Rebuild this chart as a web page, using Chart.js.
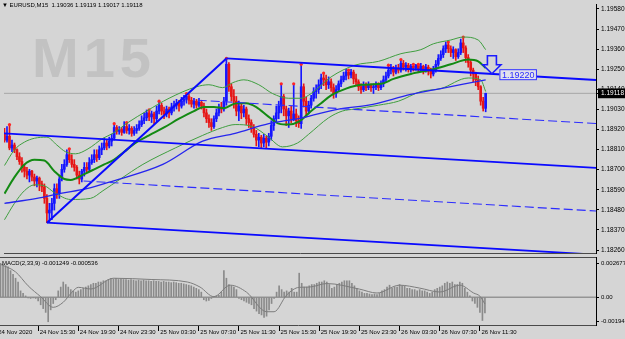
<!DOCTYPE html>
<html>
<head>
<meta charset="utf-8">
<script src="https://cdn.jsdelivr.net/npm/chart.js@4.4.1/dist/chart.umd.min.js"></script>
<style>
  html, body { margin: 0; padding: 0; background: #d5d5d5; }
  #wrap { position: relative; width: 625px; height: 339px; overflow: hidden; }
  #main { position: absolute; left: 0; top: 0; }
  #macd { position: absolute; left: 0; top: 257px; }
</style>
</head>
<body>
<div id="wrap">
  <canvas id="main" width="625" height="257"></canvas>
  <canvas id="macd" width="625" height="82"></canvas>
</div>
<script>
// EURUSD M15 candles, bar 0 = 24 Nov 11:45 ... bar 193 = 26 Nov 12:00
const firstOpen = 1.18899;
const closes = [
  1.18862, 1.18883, 1.18819, 1.18835, 1.18809, 1.18771, 1.18745, 1.18713, 1.18692, 1.18670,
  1.18692, 1.18660, 1.18638, 1.18654, 1.18622, 1.18606, 1.18543, 1.18463, 1.18479, 1.18516,
  1.18596, 1.18570, 1.18649, 1.18702, 1.18729, 1.18782, 1.18755, 1.18729, 1.18713, 1.18670,
  1.18649, 1.18692, 1.18713, 1.18702, 1.18739, 1.18755, 1.18782, 1.18766, 1.18809, 1.18819,
  1.18846, 1.18830, 1.18856, 1.18872, 1.18931, 1.18910, 1.18920, 1.18904, 1.18936, 1.18915,
  1.18926, 1.18899, 1.18915, 1.18926, 1.18947, 1.18968, 1.18984, 1.19011, 1.18989, 1.19005,
  1.18979, 1.19021, 1.19053, 1.19021, 1.19005, 1.19032, 1.19011, 1.19043, 1.19053, 1.19064,
  1.19048, 1.19075, 1.19085, 1.19101, 1.19080, 1.19059, 1.19075, 1.19053, 1.19069, 1.19048,
  1.19011, 1.18979, 1.18958, 1.18936, 1.18979, 1.19011, 1.19043, 1.19032, 1.19075, 1.19277,
  1.19154, 1.19101, 1.19075, 1.19021, 1.19048, 1.19011, 1.19032, 1.18979, 1.18958, 1.18926,
  1.18894, 1.18862, 1.18878, 1.18846, 1.18872, 1.18851, 1.18883, 1.18942, 1.18979, 1.19011,
  1.19048, 1.19101, 1.19032, 1.18995, 1.19021, 1.18979, 1.19005, 1.18968, 1.18952, 1.19154,
  1.19075, 1.19021, 1.19053, 1.19091, 1.19128, 1.19138, 1.19165, 1.19202, 1.19192, 1.19165,
  1.19181, 1.19149, 1.19117, 1.19138, 1.19170, 1.19192, 1.19213, 1.19234, 1.19218, 1.19234,
  1.19197, 1.19181, 1.19154, 1.19138, 1.19160, 1.19149, 1.19165, 1.19149, 1.19154, 1.19165,
  1.19149, 1.19170, 1.19192, 1.19213, 1.19245, 1.19256, 1.19234, 1.19256, 1.19245, 1.19282,
  1.19261, 1.19272, 1.19250, 1.19266, 1.19256, 1.19272, 1.19250, 1.19266, 1.19245, 1.19261,
  1.19240, 1.19224, 1.19245, 1.19277, 1.19309, 1.19330, 1.19362, 1.19383, 1.19362, 1.19341,
  1.19357, 1.19319, 1.19341, 1.19394, 1.19367, 1.19314, 1.19287, 1.19245, 1.19224, 1.19192,
  1.19154, 1.19075, 1.19036, 1.19118
];
const highs = [
  1.18926, 1.18936, 1.18947, 1.18862, 1.18846, 1.18814, 1.18793, 1.18766, 1.18729, 1.18713,
  1.18702, 1.18697, 1.18676, 1.18665, 1.18660, 1.18638, 1.18622, 1.18564, 1.18516, 1.18543,
  1.18622, 1.18622, 1.18670, 1.18729, 1.18755, 1.18809, 1.18814, 1.18782, 1.18755, 1.18723,
  1.18692, 1.18702, 1.18739, 1.18739, 1.18766, 1.18782, 1.18809, 1.18809, 1.18830, 1.18846,
  1.18872, 1.18862, 1.18878, 1.18894, 1.18952, 1.18942, 1.18936, 1.18931, 1.18963, 1.18958,
  1.18947, 1.18936, 1.18936, 1.18947, 1.18968, 1.18995, 1.19011, 1.19027, 1.19027, 1.19021,
  1.19016, 1.19048, 1.19075, 1.19064, 1.19043, 1.19048, 1.19043, 1.19064, 1.19075, 1.19085,
  1.19080, 1.19096, 1.19107, 1.19117, 1.19112, 1.19096, 1.19091, 1.19085, 1.19091, 1.19080,
  1.19064, 1.19032, 1.19000, 1.18979, 1.18995, 1.19032, 1.19059, 1.19069, 1.19096, 1.19309,
  1.19287, 1.19170, 1.19138, 1.19101, 1.19075, 1.19059, 1.19053, 1.19043, 1.19000, 1.18973,
  1.18947, 1.18915, 1.18899, 1.18888, 1.18894, 1.18883, 1.18899, 1.18968, 1.18995, 1.19048,
  1.19075, 1.19170, 1.19112, 1.19048, 1.19037, 1.19048, 1.19170, 1.19032, 1.18995, 1.19277,
  1.19170, 1.19096, 1.19075, 1.19107, 1.19149, 1.19165, 1.19192, 1.19224, 1.19229, 1.19218,
  1.19208, 1.19197, 1.19170, 1.19160, 1.19186, 1.19213, 1.19234, 1.19250, 1.19245, 1.19250,
  1.19245, 1.19224, 1.19192, 1.19170, 1.19181, 1.19176, 1.19181, 1.19170, 1.19170, 1.19181,
  1.19176, 1.19186, 1.19213, 1.19234, 1.19272, 1.19277, 1.19266, 1.19272, 1.19277, 1.19303,
  1.19298, 1.19287, 1.19282, 1.19277, 1.19277, 1.19277, 1.19277, 1.19282, 1.19272, 1.19277,
  1.19272, 1.19256, 1.19266, 1.19298, 1.19330, 1.19351, 1.19378, 1.19399, 1.19399, 1.19378,
  1.19373, 1.19362, 1.19362, 1.19415, 1.19426, 1.19378, 1.19330, 1.19298, 1.19256, 1.19234,
  1.19213, 1.19160, 1.19096, 1.19119
];
const lows = [
  1.18851, 1.18851, 1.18809, 1.18798, 1.18793, 1.18755, 1.18729, 1.18686, 1.18660, 1.18649,
  1.18633, 1.18638, 1.18612, 1.18606, 1.18585, 1.18580, 1.18516, 1.18410, 1.18415, 1.18426,
  1.18479, 1.18543, 1.18543, 1.18638, 1.18686, 1.18718, 1.18739, 1.18713, 1.18692, 1.18649,
  1.18622, 1.18633, 1.18665, 1.18686, 1.18692, 1.18729, 1.18739, 1.18745, 1.18755, 1.18782,
  1.18809, 1.18809, 1.18819, 1.18830, 1.18862, 1.18894, 1.18894, 1.18888, 1.18899, 1.18899,
  1.18894, 1.18883, 1.18888, 1.18899, 1.18915, 1.18936, 1.18952, 1.18968, 1.18968, 1.18958,
  1.18952, 1.18963, 1.19005, 1.19000, 1.18979, 1.18989, 1.18984, 1.19000, 1.19021, 1.19032,
  1.19021, 1.19037, 1.19053, 1.19064, 1.19059, 1.19043, 1.19037, 1.19037, 1.19043, 1.19032,
  1.18989, 1.18958, 1.18931, 1.18915, 1.18926, 1.18963, 1.18995, 1.19011, 1.19021, 1.19053,
  1.19128, 1.19075, 1.19037, 1.18995, 1.18968, 1.18979, 1.18989, 1.18947, 1.18931, 1.18904,
  1.18878, 1.18830, 1.18825, 1.18819, 1.18825, 1.18819, 1.18830, 1.18862, 1.18915, 1.18963,
  1.18979, 1.19011, 1.18995, 1.18942, 1.18931, 1.18958, 1.18968, 1.18936, 1.18931, 1.18926,
  1.19043, 1.18989, 1.19005, 1.19037, 1.19075, 1.19091, 1.19117, 1.19144, 1.19160, 1.19138,
  1.19144, 1.19128, 1.19091, 1.19096, 1.19128, 1.19154, 1.19181, 1.19192, 1.19197, 1.19202,
  1.19170, 1.19160, 1.19133, 1.19117, 1.19128, 1.19133, 1.19138, 1.19128, 1.19117, 1.19138,
  1.19133, 1.19138, 1.19154, 1.19181, 1.19202, 1.19224, 1.19213, 1.19224, 1.19229, 1.19234,
  1.19245, 1.19240, 1.19234, 1.19234, 1.19240, 1.19245, 1.19234, 1.19240, 1.19224, 1.19234,
  1.19218, 1.19202, 1.19213, 1.19234, 1.19266, 1.19298, 1.19314, 1.19341, 1.19341, 1.19319,
  1.19309, 1.19298, 1.19309, 1.19330, 1.19341, 1.19287, 1.19261, 1.19213, 1.19181, 1.19160,
  1.19138, 1.19053, 1.19021, 1.19017
];
// forex bars open at the previous close
const opens = closes.map((c, i) => i === 0 ? firstOpen : closes[i - 1]);

// red markers sit on these bars' highs
const dotBars = [2, 26, 44, 49, 58, 62, 73, 89, 111, 116, 119, 128, 138, 154, 159, 164, 166, 178, 184];

// Bollinger bands (sampled at bar positions)
const bbMidAt = [0, 4, 8, 12, 16, 20, 24, 26.5, 32, 36, 40, 44, 48, 53, 58, 64, 70, 76, 80, 84,
  88, 93, 97, 101, 106, 110, 114, 118, 123, 127, 131, 137, 143, 151, 156, 163, 172, 179, 186, 190, 193];
const bbMid = [1.18569, 1.18659, 1.18729, 1.18755, 1.18750, 1.18692, 1.18649, 1.18644, 1.18676, 1.18702,
  1.18729, 1.18755, 1.18798, 1.18851, 1.18888, 1.18931, 1.18979, 1.19021, 1.19043, 1.19043,
  1.19037, 1.19064, 1.19064, 1.19043, 1.18989, 1.18952, 1.18947, 1.18963, 1.19021, 1.19064,
  1.19107, 1.19144, 1.19165, 1.19170, 1.19197, 1.19224, 1.19250, 1.19277, 1.19303, 1.19293, 1.19256];
const bbUpAt = [0, 4, 8, 12, 17, 21, 24.5, 28.5, 33.5, 39.5, 43.5, 49.5, 57, 66, 77, 82, 87.5, 91.5, 96, 102,
  107.5, 114, 119, 123, 131, 140.5, 150, 159, 167, 172, 179, 184, 190, 193];
const bbUp = [1.18723, 1.18809, 1.18851, 1.18872, 1.18878, 1.18835, 1.18798, 1.18787, 1.18814, 1.18872,
  1.18899, 1.18958, 1.19021, 1.19091, 1.19154, 1.19165, 1.19149, 1.19176, 1.19192, 1.19165,
  1.19117, 1.19091, 1.19091, 1.19117, 1.19208, 1.19272, 1.19293, 1.19335, 1.19357, 1.19389,
  1.19410, 1.19426, 1.19410, 1.19357];
const bbLowAt = [0, 4, 8, 12, 16, 20, 26.5, 34.5, 39.5, 46.5, 55.5, 68.5, 79.5, 87.5, 92.5, 99.5, 105.5, 111.5, 117.5, 122,
  130, 135.5, 140.5, 150, 158, 167, 175, 186, 191, 193];
const bbLow = [1.18426, 1.18516, 1.18585, 1.18617, 1.18612, 1.18575, 1.18537, 1.18543, 1.18585, 1.18649,
  1.18729, 1.18819, 1.18888, 1.18931, 1.18947, 1.18936, 1.18883, 1.18825, 1.18846, 1.18894,
  1.18984, 1.19021, 1.19032, 1.19053, 1.19075, 1.19128, 1.19144, 1.19202, 1.19192, 1.19128];

// slow moving average (blue)
const maAt = [0, 13, 22.5, 33, 43.5, 63.5, 79.5, 92.5, 106, 119.5, 134, 146, 163, 175, 193];
const maVal = [1.18516, 1.18543, 1.18570, 1.18596, 1.18638, 1.18729, 1.18856, 1.18899, 1.18952, 1.18984,
  1.19032, 1.19053, 1.19112, 1.19144, 1.19192];

// drawn objects: [startBar, startPrice, endBar, endPrice]
const trendLine = [17, 1.18410, 89, 1.19309];
const channelSolid = [
  [89, 1.19309, 237.25, 1.19191],
  [-0.2, 1.18899, 237.25, 1.18710],
  [17, 1.18410, 237.25, 1.18235]
];
const channelDashed = [
  [77.5, 1.19080, 237.25, 1.18953],
  [31.7, 1.18638, 237.25, 1.18474]
];
const arrowBar = 195.5, arrowPrice = 1.19220, arrowLabelBar = 198.5;

const priceTicks = [1.18260, 1.18370, 1.18480, 1.18590, 1.18700, 1.18810, 1.18920,
  1.19030, 1.19140, 1.19250, 1.19360, 1.19470, 1.19580];
const bidPrice = 1.19118;

const timeTickBars = [-1.5, 15, 31, 47, 63, 79, 95, 111, 127, 143, 159, 175, 191];
const timeLabels = ['24 Nov 2020', '24 Nov 15:30', '24 Nov 19:30', '24 Nov 23:30', '25 Nov 03:30',
  '25 Nov 07:30', '25 Nov 11:30', '25 Nov 15:30', '25 Nov 19:30', '25 Nov 23:30',
  '26 Nov 03:30', '26 Nov 07:30', '26 Nov 11:30'];

// MACD(2,33,9): main values per bar, signal sampled
const macdMain = [
  0.00268, 0.00260, 0.00250, 0.00240, 0.00210, 0.00180, 0.00150, 0.00120, 0.00050, 0.00030,
  0.00010, -0.00005, -0.00010, -0.00005, -0.00010, -0.00030, -0.00060, -0.00090, -0.00120, -0.00194,
  -0.00100, -0.00050, -0.00020, 0.00050, 0.00080, 0.00120, 0.00100, 0.00080, 0.00060, 0.00050,
  0.00040, 0.00050, 0.00060, 0.00070, 0.00080, 0.00090, 0.00100, 0.00110, 0.00110, 0.00120,
  0.00120, 0.00130, 0.00130, 0.00140, 0.00150, 0.00145, 0.00150, 0.00140, 0.00145, 0.00140,
  0.00140, 0.00135, 0.00140, 0.00135, 0.00130, 0.00135, 0.00130, 0.00135, 0.00130, 0.00130,
  0.00125, 0.00130, 0.00125, 0.00125, 0.00120, 0.00125, 0.00120, 0.00120, 0.00115, 0.00120,
  0.00115, 0.00110, 0.00110, 0.00105, 0.00100, 0.00095, 0.00090, 0.00080, 0.00070, 0.00060,
  0.00040, -0.00020, -0.00030, -0.00025, -0.00010, 0.00005, 0.00010, 0.00015, 0.00040, 0.00210,
  0.00150, 0.00100, 0.00090, 0.00080, 0.00060, -0.00010, -0.00020, -0.00030, -0.00040, -0.00050,
  -0.00060, -0.00090, -0.00110, -0.00130, -0.00140, -0.00160, -0.00150, -0.00100, -0.00050, -0.00010,
  0.00040, 0.00090, 0.00060, 0.00040, 0.00050, 0.00040, 0.00070, 0.00040, 0.00040, 0.00190,
  0.00110, 0.00080, 0.00080, 0.00090, 0.00100, 0.00100, 0.00110, 0.00120, 0.00120, 0.00130,
  0.00120, 0.00100, 0.00070, 0.00080, 0.00100, 0.00110, 0.00120, 0.00130, 0.00130, 0.00130,
  0.00110, 0.00090, 0.00070, 0.00050, 0.00040, 0.00030, 0.00030, 0.00025, 0.00020, 0.00025,
  0.00020, 0.00030, 0.00050, 0.00060, 0.00080, 0.00095, 0.00070, 0.00080, 0.00080, 0.00100,
  0.00090, 0.00090, 0.00070, 0.00070, 0.00060, 0.00060, 0.00050, 0.00060, 0.00050, 0.00050,
  0.00040, 0.00030, 0.00040, 0.00060, 0.00070, 0.00080, 0.00090, 0.00110, 0.00120, 0.00110,
  0.00120, 0.00100, 0.00100, 0.00120, 0.00110, 0.00070, 0.00040, 0.00010, -0.00030, -0.00050,
  -0.00080, -0.00120, -0.00184, -0.001249
];
const signalAt = [0, 6, 11, 16, 21, 25, 28.5, 31, 36, 45, 60, 74.5, 79.5, 85, 91.5, 98, 106, 109, 114, 119,
  123, 130, 143, 150, 159, 167, 175, 183, 188.5, 191, 193];
const signalVal = [0.00260, 0.00200, 0.00090, 0.00004, -0.00080, -0.00040, 0.00040, 0.00078, 0.00065, 0.00150,
  0.00140, 0.00120, 0.00080, 0.00004, 0.00095, 0.00040, -0.00115, -0.00115, 0.00017, 0.00078,
  0.00080, 0.00108, 0.00064, 0.00033, 0.00095, 0.00072, 0.00041, 0.00095, 0.00033, 0.00008, -0.000536];
const macdTicks = [-0.00194, 0, 0.002677];
const macdTickLabels = ['-0.00194', '0.00', '0.002677'];

const X_MIN = -0.2, X_MAX = 237.25;
const FONT = '"Liberation Sans", Arial, sans-serif';
const BULL = '#1616ff', BEAR = '#e61616';

const last = closes.length - 1;
const bars = closes.map((c, i) => i);
const candleColors = bars.map(i => closes[i] >= opens[i] ? BULL : BEAR);
const pts = (xs, ys) => xs.map((x, i) => ({ x: x, y: ys[i] }));
const seg = s => [{ x: s[0], y: s[1] }, { x: s[2], y: s[3] }];

function lineSet(data, color, width, order, dash) {
  return {
    type: 'line', data: data, borderColor: color, borderWidth: width,
    pointRadius: 0, fill: false, cubicInterpolationMode: 'monotone',
    borderDash: dash || [], order: order
  };
}

// pin axis boxes so the plot area matches the terminal window
function fitY(s) { s.width = 29; s.paddingTop = 0; s.paddingBottom = 0; }

const mainOverlay = {
  id: 'mainOverlay',
  beforeDatasetsDraw(chart) {
    const c = chart.ctx;
    c.save();
    c.font = 'bold 56px ' + FONT;
    c.letterSpacing = '5px';
    c.fillStyle = '#c2c2c2';
    c.textBaseline = 'alphabetic';
    c.fillText('M15', 32, 77);
    c.restore();
  },
  afterDatasetsDraw(chart) {
    const c = chart.ctx, x = chart.scales.x, y = chart.scales.y;
    const tx = x.getPixelForValue(arrowBar), ty = y.getPixelForValue(arrowPrice);
    c.save();
    // hollow down arrow
    c.strokeStyle = '#1c1cff';
    c.lineWidth = 1.6;
    c.fillStyle = '#d5d5d5';
    c.beginPath();
    c.moveTo(tx - 4.5, ty - 19);
    c.lineTo(tx + 4.5, ty - 19);
    c.lineTo(tx + 4.5, ty - 10);
    c.lineTo(tx + 9, ty - 10);
    c.lineTo(tx, ty - 1);
    c.lineTo(tx - 9, ty - 10);
    c.lineTo(tx - 4.5, ty - 10);
    c.closePath();
    c.fill();
    c.stroke();
    // price tag
    const lx = x.getPixelForValue(arrowLabelBar);
    c.font = '9px ' + FONT;
    const txt = arrowPrice.toFixed(5);
    const w = c.measureText(txt).width;
    c.fillStyle = '#e2e2ec';
    c.fillRect(lx, ty - 5.5, w + 5, 11);
    c.lineWidth = 1;
    c.strokeStyle = '#3030ff';
    c.strokeRect(lx + 0.5, ty - 5, w + 4, 10);
    c.fillStyle = '#2a2aff';
    c.textBaseline = 'middle';
    c.fillText(txt, lx + 2.5, ty + 0.5);
    // symbol header
    c.font = '6px ' + FONT;
    c.fillStyle = '#000';
    const head = '\u25BC EURUSD,M15  ' + [opens[last], highs[last], lows[last], closes[last]]
      .map(v => v.toFixed(5)).join(' ');
    c.fillText(head, 2, 5);
    c.restore();
  }
};

new Chart(document.getElementById('main'), {
  type: 'bar',
  data: {
    datasets: [
      ...channelSolid.map(s => lineSet(seg(s), '#0a0aff', 1.8, 0)),
      ...channelDashed.map(s => lineSet(seg(s), '#2c2cff', 1.1, 0, [9, 4])),
      lineSet(seg(trendLine), '#0a0aff', 2, 0),
      lineSet(pts(maAt, maVal), '#2525ee', 1.3, 1),
      lineSet(pts(bbMidAt, bbMid), '#138a13', 2, 1),
      lineSet(pts(bbUpAt, bbUp), '#3f9e3f', 1, 1),
      lineSet(pts(bbLowAt, bbLow), '#3f9e3f', 1, 1),
      {
        type: 'scatter', data: dotBars.map(b => ({ x: b, y: highs[b] })),
        pointRadius: 1.6, backgroundColor: '#ff2424', borderWidth: 0, order: 2
      },
      {
        type: 'bar', data: bars.map(i => ({ x: i, y: [opens[i], closes[i]] })),
        backgroundColor: candleColors, barThickness: 2, minBarLength: 1,
        grouped: false, borderWidth: 0, order: 3
      },
      {
        type: 'bar', data: bars.map(i => ({ x: i, y: [lows[i], highs[i]] })),
        backgroundColor: candleColors, barThickness: 1,
        grouped: false, borderWidth: 0, order: 4
      },
      lineSet([{ x: X_MIN, y: bidPrice }, { x: X_MAX, y: bidPrice }], '#a6a6a6', 1, 5)
    ]
  },
  options: {
    responsive: false,
    animation: false,
    devicePixelRatio: 1,
    events: [],
    layout: { padding: 0 },
    plugins: { legend: { display: false }, tooltip: { enabled: false } },
    scales: {
      x: {
        type: 'linear', min: X_MIN, max: X_MAX, offset: false,
        ticks: { display: false },
        grid: { display: false, offset: false },
        border: { display: true, color: '#4a4a4a' },
        afterFit: s => { s.height = 1; s.paddingLeft = 0; s.paddingRight = 0; }
      },
      y: {
        position: 'right', min: 1.18244, max: 1.19607,
        afterBuildTicks: s => { s.ticks = [...priceTicks, bidPrice].map(v => ({ value: v })); },
        afterFit: fitY,
        grid: { display: true, drawOnChartArea: false, tickLength: 3, color: '#000' },
        border: { display: true, color: '#000' },
        ticks: {
          autoSkip: false,
          padding: 2,
          font: { family: FONT, size: 6.5 },
          color: c => c.tick && c.tick.value === bidPrice ? '#fff' : '#000',
          showLabelBackdrop: c => !!(c.tick && c.tick.value === bidPrice),
          backdropColor: '#000',
          backdropPadding: { left: 3, right: 4, top: 1, bottom: 1 },
          callback: v => v.toFixed(5)
        }
      }
    }
  },
  plugins: [mainOverlay]
});

const macdOverlay = {
  id: 'macdOverlay',
  afterDraw(chart) {
    const c = chart.ctx, a = chart.chartArea;
    c.save();
    c.strokeStyle = '#4a4a4a';
    c.lineWidth = 1;
    c.beginPath();
    c.moveTo(a.left, a.top + 0.5);
    c.lineTo(a.right, a.top + 0.5);
    c.stroke();
    c.font = '6px ' + FONT;
    c.fillStyle = '#000';
    c.textBaseline = 'middle';
    c.fillText('MACD(2,33,9) ' + macdMain[last].toFixed(6) + ' ' + signalVal[signalVal.length - 1].toFixed(6), 2, 6);
    c.restore();
  }
};

new Chart(document.getElementById('macd'), {
  type: 'bar',
  data: {
    datasets: [
      lineSet(pts(signalAt, signalVal), '#7c7c7c', 1, 0),
      lineSet([{ x: X_MIN, y: 0 }, { x: X_MAX, y: 0 }], '#959595', 1.5, 2),
      {
        type: 'bar', data: bars.map(i => ({ x: i, y: macdMain[i] })),
        backgroundColor: '#8a8a8a', barThickness: 1, grouped: false, borderWidth: 0, order: 1
      }
    ]
  },
  options: {
    responsive: false,
    animation: false,
    devicePixelRatio: 1,
    events: [],
    layout: { padding: 0 },
    plugins: { legend: { display: false }, tooltip: { enabled: false } },
    scales: {
      x: {
        type: 'linear', min: X_MIN, max: X_MAX, offset: false,
        afterBuildTicks: s => { s.ticks = timeTickBars.map(v => ({ value: v })); },
        afterFit: s => { s.height = 14; s.paddingLeft = 0; s.paddingRight = 0; },
        grid: { display: true, drawOnChartArea: false, offset: false, tickLength: 6, color: '#000' },
        border: { display: true, color: '#4a4a4a' },
        ticks: {
          autoSkip: false, maxRotation: 0, align: 'start', padding: -2, labelOffset: 1.5,
          font: { family: FONT, size: 6 }, color: '#000',
          callback: (v, i) => timeLabels[i]
        }
      },
      y: {
        position: 'right', min: -0.002198, max: 0.003178,
        afterBuildTicks: s => { s.ticks = macdTicks.map(v => ({ value: v })); },
        afterFit: fitY,
        grid: { display: true, drawOnChartArea: false, tickLength: 3, color: '#000' },
        border: { display: true, color: '#000' },
        ticks: {
          autoSkip: false, padding: 2,
          font: { family: FONT, size: 6 }, color: '#000',
          callback: (v, i) => macdTickLabels[i]
        }
      }
    }
  },
  plugins: [macdOverlay]
});
</script>
</body>
</html>
